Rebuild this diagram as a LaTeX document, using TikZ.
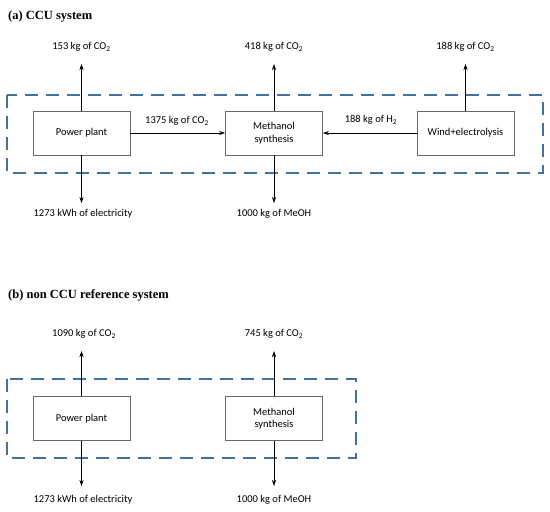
\documentclass[tikz,border=0pt]{standalone}
\usepackage{fontspec}
\setmainfont{Carlito}
\newfontfamily\titlefont{Liberation Serif}
\usetikzlibrary{arrows.meta}
\definecolor{sysblue}{RGB}{65,113,156}
\newcommand{\cotwo}{CO\textsubscript{2}}
\tikzset{
  unit/.style={draw=black!60, line width=0.6pt, minimum width=97pt, minimum height=44pt,
    align=center, font=\fontsize{10.5}{12.5}\selectfont},
  flow/.style={-{Stealth[length=6pt,width=4pt]}, line width=0.6pt},
  flowlabel/.style={font=\fontsize{10.5}{12.5}\selectfont, inner sep=0pt},
  boundary/.style={draw=sysblue, line width=1.8pt, dash pattern=on 13pt off 8pt},
  heading/.style={font=\titlefont\bfseries\fontsize{12.5}{14}\selectfont, anchor=west, inner sep=0pt}
}
\begin{document}
\begin{tikzpicture}[x=1pt, y=-1pt]
  \useasboundingbox (0,0) rectangle (550,512);

  % (a) CCU system
  \node[heading] (titleA) at (8,17) {(a) CCU system};
  \draw[boundary] (7,95) rectangle (543,173);
  \node[unit] (ppA) at (81.5,133) {Power plant};
  \node[unit] (msA) at (274,133) {Methanol\\synthesis};
  \node[unit] (wind) at (465.5,133) {Wind+electrolysis};
  \coordinate (ppAup) at (81.5,64);
  \coordinate (msAup) at (274,64);
  \coordinate (windup) at (465.5,64);
  \coordinate (ppAdown) at (81.5,203);
  \coordinate (msAdown) at (274,203);
  \draw[flow] (ppA.north) -- (ppAup);
  \draw[flow] (msA.north) -- (msAup);
  \draw[flow] (wind.north) -- (windup);
  \draw[flow] (ppA.south) -- (ppAdown);
  \draw[flow] (msA.south) -- (msAdown);
  \draw[flow] (ppA.east) -- (msA.west);
  \draw[flow] (wind.west) -- (msA.east);
  \node[flowlabel] (ppAco) at (81.5,47) {153 kg of \cotwo};
  \node[flowlabel] (msAco) at (274,47) {418 kg of \cotwo};
  \node[flowlabel] (windco) at (465.5,47) {188 kg of \cotwo};
  \node[flowlabel] (ppAel) at (83,214) {1273 kWh of electricity};
  \node[flowlabel] (msAme) at (274,214) {1000 kg of MeOH};
  \node[flowlabel] (coflow) at (177,121) {1375 kg of \cotwo};
  \node[flowlabel] (hflow) at (371,120) {188 kg of H\textsubscript{2}};

  % (b) non CCU reference system
  \node[heading] (titleB) at (8,295) {(b) non CCU reference system};
  \draw[boundary] (7,379) rectangle (356,458);
  \node[unit] (ppB) at (81.5,418.5) {Power plant};
  \node[unit] (msB) at (274,418.5) {Methanol\\synthesis};
  \coordinate (ppBup) at (81.5,351);
  \coordinate (msBup) at (274,351);
  \coordinate (ppBdown) at (81.5,486);
  \coordinate (msBdown) at (274,486);
  \draw[flow] (ppB.north) -- (ppBup);
  \draw[flow] (msB.north) -- (msBup);
  \draw[flow] (ppB.south) -- (ppBdown);
  \draw[flow] (msB.south) -- (msBdown);
  \node[flowlabel] (ppBco) at (84,334) {1090 kg of \cotwo};
  \node[flowlabel] (msBco) at (274,334) {745 kg of \cotwo};
  \node[flowlabel] (ppBel) at (83,500) {1273 kWh of electricity};
  \node[flowlabel] (msBme) at (274,500) {1000 kg of MeOH};
\end{tikzpicture}
\end{document}
